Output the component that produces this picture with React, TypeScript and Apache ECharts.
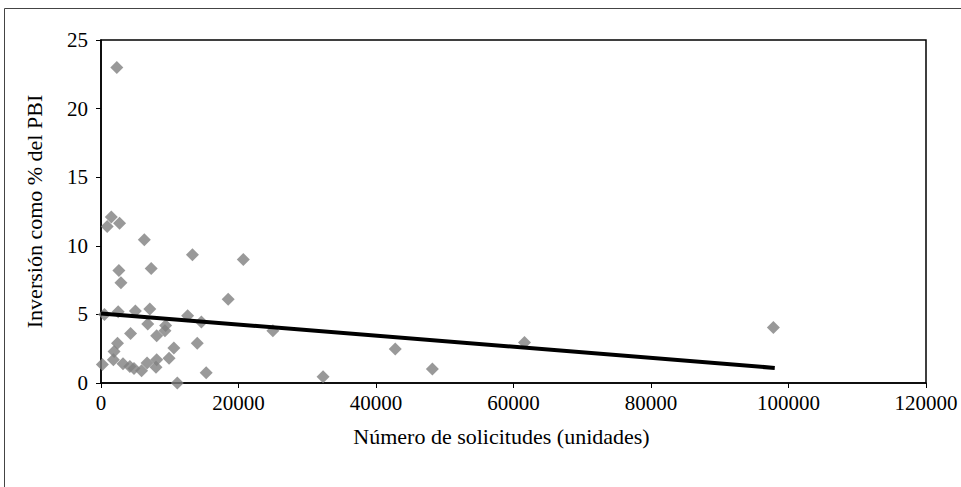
import React, { useEffect, useRef } from "react";
import * as echarts from "echarts";

const solicitudes: number[] = [
  2300, 1500, 900, 2700, 6300, 13300, 20700, 2600, 7300, 2900, 18500, 500, 2500, 5000, 7100,
  12600, 14600, 6800, 9400, 9300, 8100, 4300, 25000, 2400, 14000, 1900, 10600, 200, 1800,
  3200, 4200, 4800, 5900, 6700, 8100, 8000, 9900, 15300, 11100, 32300, 42800, 48200, 61600, 97800,
];
const inversion: number[] = [
  23.0, 12.1, 11.4, 11.65, 10.45, 9.35, 9.0, 8.2, 8.35, 7.3, 6.1, 5.0, 5.2, 5.25, 5.4,
  4.9, 4.45, 4.3, 4.2, 3.8, 3.45, 3.6, 3.8, 2.9, 2.9, 2.3, 2.55, 1.35, 1.7,
  1.4, 1.2, 1.05, 0.9, 1.45, 1.7, 1.15, 1.8, 0.75, 0.0, 0.45, 2.48, 1.02, 2.95, 4.05,
];
const trendX: number[] = [0, 98000];
const trendY: number[] = [5.07, 1.1];
const xTicks: number[] = [0, 20000, 40000, 60000, 80000, 100000, 120000];
const yTicks: number[] = [0, 5, 10, 15, 20, 25];

const FONT = "'Liberation Serif', 'Times New Roman', serif";

export default function App() {
  const ref = useRef<HTMLDivElement>(null);
  useEffect(() => {
    if (!ref.current) return;
    const chart = echarts.init(ref.current, null, { renderer: "svg" });
    const points = solicitudes.map((x, i) => [x, inversion[i]]);
    const trend = trendX.map((x, i) => [x, trendY[i]]);
    chart.setOption({
      animation: false,
      backgroundColor: "#ffffff",
      textStyle: { fontFamily: FONT, color: "#000" },
      graphic: [
        {
          type: "rect",
          shape: { x: 4.5, y: 8.5, width: 1000, height: 600 },
          style: { fill: "none", stroke: "#444", lineWidth: 1 },
          silent: true,
        },
      ],
      grid: {
        left: 101,
        top: 40,
        right: 35,
        bottom: 104,
        show: true,
        borderColor: "#000",
        borderWidth: 1.5,
        backgroundColor: "transparent",
      },
      xAxis: {
        type: "value",
        min: xTicks[0],
        max: xTicks[xTicks.length - 1],
        interval: xTicks[1] - xTicks[0],
        name: "Número de solicitudes (unidades)",
        nameLocation: "middle",
        nameGap: 42,
        nameTextStyle: {
          fontFamily: FONT,
          fontSize: 22,
          color: "#000",
          padding: [0, 24, 0, 0],
        },
        axisLine: { show: true, onZero: false, lineStyle: { color: "#000", width: 1.5 } },
        axisTick: { show: true, inside: false, length: 5, lineStyle: { color: "#000" } },
        axisLabel: {
          fontFamily: FONT,
          fontSize: 21,
          color: "#000",
          margin: 9,
          formatter: (v: number) => String(v),
        },
        splitLine: { show: false },
      },
      yAxis: {
        type: "value",
        min: yTicks[0],
        max: yTicks[yTicks.length - 1],
        interval: yTicks[1] - yTicks[0],
        name: "Inversión como % del PBI",
        nameLocation: "middle",
        nameGap: 56,
        nameTextStyle: { fontFamily: FONT, fontSize: 22, color: "#000" },
        axisLine: { show: true, onZero: false, lineStyle: { color: "#000", width: 1.5 } },
        axisTick: { show: true, inside: false, length: 5, lineStyle: { color: "#000" } },
        axisLabel: { fontFamily: FONT, fontSize: 21, color: "#000", margin: 13 },
        splitLine: { show: false },
      },
      series: [
        {
          type: "scatter",
          data: points,
          symbol: "diamond",
          symbolSize: 13,
          itemStyle: { color: "#808080" },
          z: 2,
        },
        {
          type: "line",
          data: trend,
          showSymbol: false,
          symbol: "none",
          lineStyle: { color: "#000", width: 4 },
          z: 3,
        },
      ],
    });
    return () => chart.dispose();
  }, []);
  return (
    <div
      ref={ref}
      style={{ position: "fixed", left: 0, top: 0, width: 961, height: 487, background: "#fff" }}
    />
  );
}
